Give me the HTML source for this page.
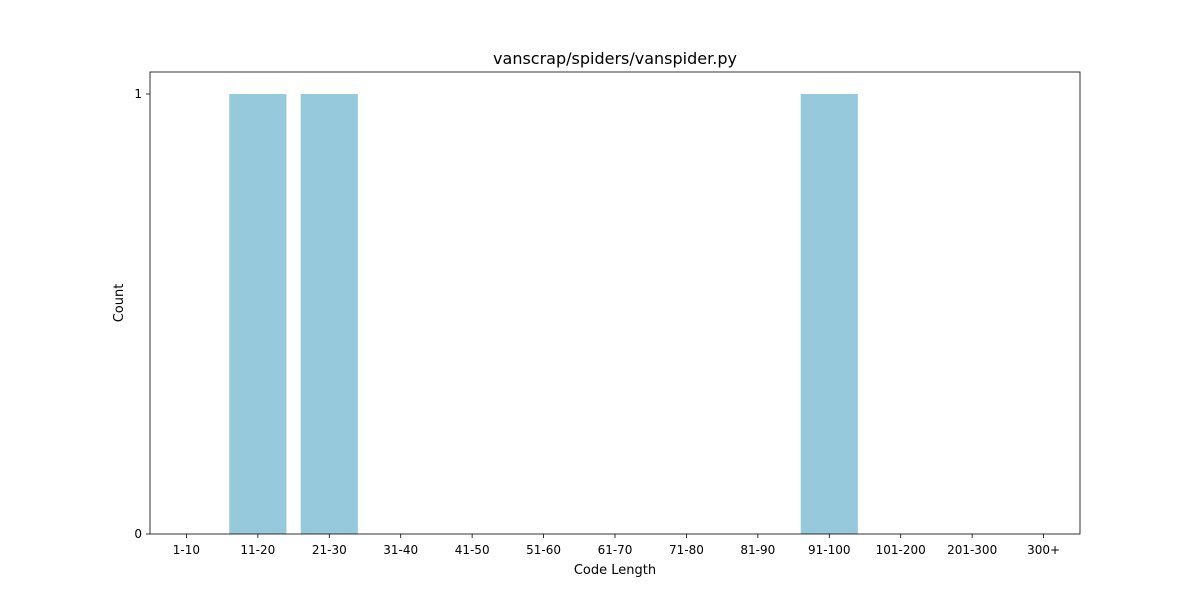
<!DOCTYPE html>
<html><head><meta charset="utf-8"><style>
body{margin:0;background:#fff;}
svg text{font-family:"DejaVu Sans","Liberation Sans",sans-serif;fill:#000;}
</style></head><body>
<svg width="1200" height="600">
<g id="plot"></g>
</svg>
<script>
const categories=["1-10","11-20","21-30","31-40","41-50","51-60","61-70","71-80","81-90","91-100","101-200","201-300","300+"];
const counts=[0,1,1,0,0,0,0,0,0,1,0,0,0];
const yTicks=[0,1];
const L=150,R=1080,T=72,B=534;
const xmin=-0.51,xmax=categories.length-1+0.51,ymax=Math.max(...counts)*1.05||1.05;
const xs=v=>L+(v-xmin)/(xmax-xmin)*(R-L);
const ys=v=>B-v/ymax*(B-T);
const NS="http://www.w3.org/2000/svg";
const g=document.getElementById('plot');
function mk(t,a){const e=document.createElementNS(NS,t);for(const k in a)e.setAttribute(k,a[k]);g.appendChild(e);return e;}
counts.forEach((c,i)=>{
  const w=xs(0.8)-xs(0);
  const r=mk('rect',{x:xs(i)-w/2,y:ys(c),width:w,height:B-ys(c),fill:'#96c9dc'});
  
  
  const tk=mk('line',{x1:xs(i),x2:xs(i),y1:B,y2:B+4,stroke:'#000','stroke-width':0.8});
  
  
  const t=mk('text',{x:xs(i),y:B+20,'text-anchor':'middle','font-size':12});
  t.textContent=categories[i];
  
  
});
yTicks.forEach(v=>{
  const tk=mk('line',{x1:L-4,x2:L,y1:ys(v),y2:ys(v),stroke:'#000','stroke-width':0.8});
  
  
  const t=mk('text',{x:L-8,y:ys(v)+4,'text-anchor':'end','font-size':12});
  t.textContent=v;
  
  
});
const f=mk('rect',{x:L,y:T,width:R-L,height:B-T,fill:'none',stroke:'#000','stroke-width':0.8});


const ti=mk('text',{x:(L+R)/2,y:64,'text-anchor':'middle','font-size':16});
ti.textContent='vanscrap/spiders/vanspider.py';


const xl=mk('text',{x:(L+R)/2,y:574,'text-anchor':'middle','font-size':13});
xl.textContent='Code Length';


const yl=mk('text',{x:0,y:0,'text-anchor':'middle','font-size':13,transform:'translate(123,'+((T+B)/2)+') rotate(-90)'});
yl.textContent='Count';


</script>
</body></html>
